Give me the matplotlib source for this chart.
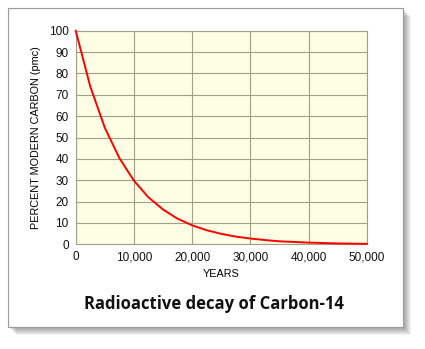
import matplotlib.pyplot as plt
from matplotlib.patches import Rectangle
from matplotlib.ticker import FuncFormatter

# years since death vs. remaining carbon-14
years = [0, 2500, 5000, 7500, 10000, 12500, 15000, 17500, 20000, 22500,
         25000, 27500, 30000, 32500, 35000, 37500, 40000, 42500, 45000,
         47500, 50000]
pmc = [100, 73.9, 54.6, 40.4, 29.8, 22.0, 16.3, 12.0, 8.9, 6.6,
       4.9, 3.6, 2.7, 2.0, 1.4, 1.1, 0.8, 0.6, 0.4, 0.3, 0.2]

x_ticks = [0, 10000, 20000, 30000, 40000, 50000]
y_ticks = [0, 10, 20, 30, 40, 50, 60, 70, 80, 90, 100]

W, H = 425, 349
fig = plt.figure(figsize=(W / 100, H / 100), dpi=100)
fig.patch.set_facecolor('white')

# soft drop shadow behind the card
for i in range(8, 0, -1):
    fig.add_artist(Rectangle(((8 + i * 1.0) / W, 1 - (327 + i * 1.0) / H),
                             395 / W, 319 / H, transform=fig.transFigure,
                             facecolor='black', edgecolor='none',
                             alpha=0.05, zorder=0))
# the card itself
fig.add_artist(Rectangle((8 / W, 1 - 327 / H), 395 / W, 319 / H,
                         transform=fig.transFigure, facecolor='white',
                         edgecolor='#999999', linewidth=0.8, zorder=1))

ax = fig.add_axes([75.7 / W, 1 - 244.3 / H, 291 / W, 213.6 / H])
ax.set_zorder(2)
ax.set_facecolor('#fefee4')
ax.plot(years, pmc, color='#ff0000', linewidth=1.4, clip_on=False, zorder=3)

ax.set_xlim(0, 50000)
ax.set_ylim(0, 100)
ax.set_xticks(x_ticks)
ax.set_yticks(y_ticks)
ax.xaxis.set_major_formatter(FuncFormatter(lambda v, p: f'{int(v):,}'))
ax.grid(True, color='#a09f88', linewidth=0.8)
ax.set_axisbelow(True)
for s in ax.spines.values():
    s.set_color('#a09f88')
    s.set_linewidth(0.8)
ax.tick_params(length=0, pad=5, labelsize=8.5, colors='#111111')
for lab in ax.get_xticklabels() + ax.get_yticklabels():
    lab.set_family('Liberation Sans')

ax.set_xlabel('YEARS', fontsize=7.8, family='Liberation Sans', labelpad=4)
ax.set_ylabel('PERCENT MODERN CARBON (pmc)', fontsize=7.8,
              family='Liberation Sans', labelpad=6)

fig.text(214 / W, 1 - 304 / H, 'Radioactive decay of Carbon-14',
         ha='center', va='center', fontsize=12, fontweight='bold',
         family='Open Sans', color='#111111')

plt.savefig('out.png', dpi=100)
